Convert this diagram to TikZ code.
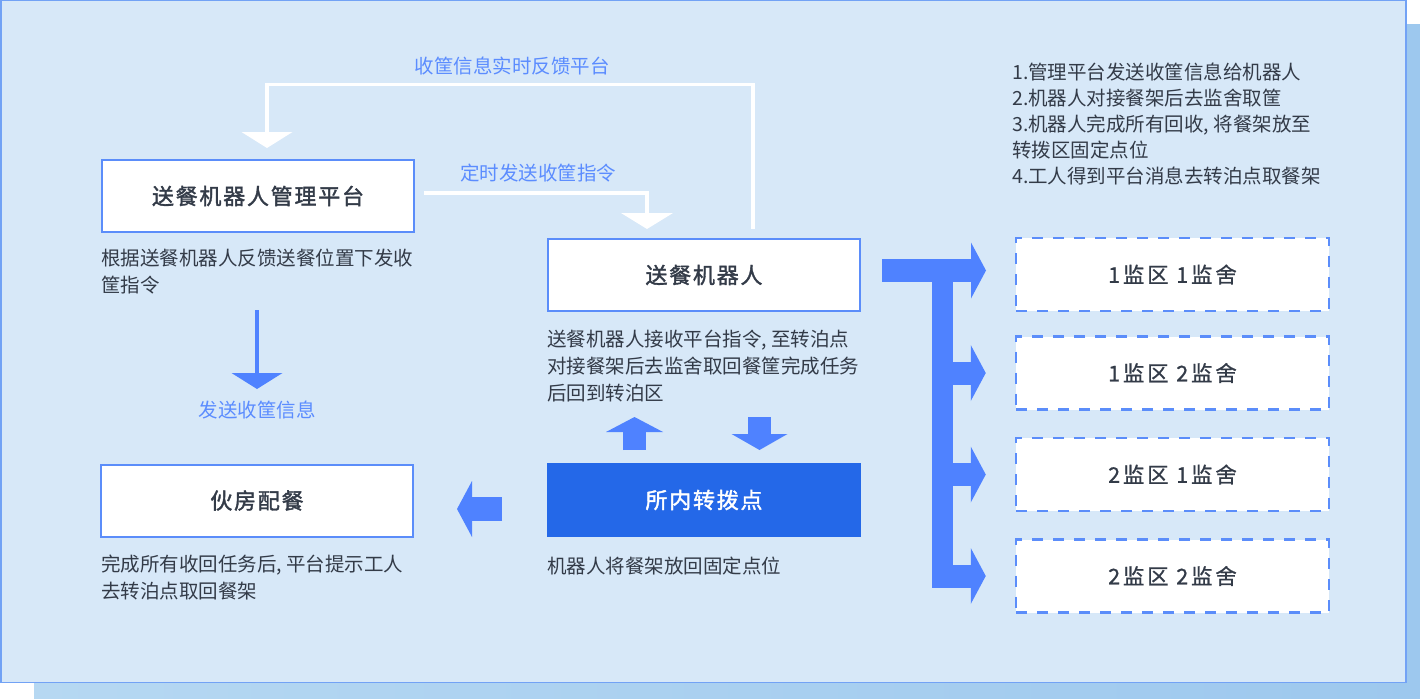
\documentclass[tikz,border=0pt]{standalone}
\usepackage{fontspec}
\setmainfont{Noto Sans CJK SC}
\usetikzlibrary{arrows.meta}
\definecolor{panelc}{HTML}{D7E8F8}
\definecolor{panelb}{HTML}{72A2F5}
\definecolor{shadowc}{HTML}{9DC8EE}
\definecolor{shadowl}{HTML}{B6D8F2}
\definecolor{boxc}{HTML}{5B8DFA}
\definecolor{arrc}{HTML}{4F82FF}
\definecolor{hubc}{HTML}{2468E8}
\definecolor{txt}{HTML}{333B48}
\definecolor{lblc}{HTML}{5B8CFF}
\newcommand\descf{\fontsize{19.5pt}{27pt}\selectfont}
\newcommand\notef{\fontsize{19.5pt}{26pt}\selectfont}
\newcommand\titlef{\fontsize{22pt}{26pt}\selectfont\addfontfeature{LetterSpace=8,FakeBold=1.6}}
\newcommand\zonef{\fontsize{21.5pt}{26pt}\selectfont\addfontfeature{LetterSpace=13,FakeBold=0.8}}
\tikzset{
  box/.style={draw=boxc, line width=2pt, fill=white, minimum width=312pt, minimum height=72pt, inner sep=0pt, font=\titlef, text=txt},
  darkbox/.style={fill=hubc, minimum width=314pt, minimum height=74pt, inner sep=0pt, font=\titlef, text=white},
  dbox/.style={draw=boxc, line width=2.5pt, dash pattern=on 11pt off 10pt, fill=white, minimum width=313pt, minimum height=73pt, inner sep=0pt, font=\zonef, text=txt},
  desc/.style={anchor=north west, inner sep=0pt, align=left, font=\descf, text=txt},
  lbl/.style={inner sep=0pt, font=\descf, text=lblc},
  wline/.style={draw=white, line width=3.5pt, line join=miter},
  fat/.style={draw=arrc, line width=23pt, -{Triangle[width=56pt,length=15pt,line width=0pt]}},
  thin/.style={draw=arrc, line width=4pt, -{Triangle[width=51pt,length=16pt,line width=0pt]}},
}
\begin{document}
\begin{tikzpicture}[x=1pt,y=-1pt]
\useasboundingbox (0,0) rectangle (1420,698);
% shadow and panel
\fill[shadowc] (1406,24) rectangle (1420,698);
\shade[left color=shadowl, right color=shadowc] (34,682) rectangle (1420,698);
\draw[panelb, fill=panelc, line width=1.5pt] (0.75,0.75) rectangle (1405.75,682.25);

% main boxes
\node[box] (plat) at (258,196) {送餐机器人管理平台};
\node[box] (robot) at (704,275) {送餐机器人};
\node[darkbox] (hub) at (704,500) {所内转拨点};
\node[box] (kitchen) at (257,500.5) {伙房配餐};

% descriptions
\node[desc] (platd) at (101,249) {根据送餐机器人反馈送餐位置下发收\\筐指令};
\node[desc] (robotd) at (547,330) {送餐机器人接收平台指令, 至转泊点\\对接餐架后去监舍取回餐筐完成任务\\后回到转泊区};
\node[desc] (hubd) at (547,557) {机器人将餐架放回固定点位};
\node[desc] (kitchend) at (101,555) {完成所有收回任务后, 平台提示工人\\去转泊点取回餐架};
\node[desc, font=\notef] (notes) at (1012,63) {1.管理平台发送收筐信息给机器人\\2.机器人对接餐架后去监舍取筐\\3.机器人完成所有回收, 将餐架放至\\转拨区固定点位\\4.工人得到平台消息去转泊点取餐架};

% labels
\node[lbl] (fblbl) at (512,66) {收筐信息实时反馈平台};
\node[lbl] (tmlbl) at (538,173) {定时发送收筐指令};
\node[lbl] (sdlbl) at (257,410) {发送收筐信息};

% zone boxes
\node[dbox] (z1) at (1172.5,274.5) {1监区 1监舍};
\node[dbox] (z2) at (1172.5,373) {1监区 2监舍};
\node[dbox] (z3) at (1172.5,474.5) {2监区 1监舍};
\node[dbox] (z4) at (1172.5,576) {2监区 2监舍};

% white connectors
\coordinate (fbx) at (753,84.5);
\coordinate (fbl) at (267,84.5);
\draw[wline, -{Triangle[width=51pt,length=16pt,line width=0pt]}, shorten <=9pt, shorten >=11pt]
  (robot.north -| fbx) -- (fbx) -- (fbl) -- (plat.north -| fbl);
\coordinate (ts) at (424,193);
\coordinate (tx) at (647,193);
\draw[wline, -{Triangle[width=52pt,length=16pt,line width=0pt]}, shorten >=9pt]
  (ts) -- (tx) -- (robot.north -| tx);

% thin blue down arrow
\coordinate (ds) at (257,310);
\coordinate (de) at (257,389);
\draw[thin] (ds) -- (de);

% fat arrows
\coordinate (ua) at (634.5,450);
\coordinate (ub) at (634.5,417);
\draw[fat, -{Triangle[width=57pt,length=15pt,line width=0pt]}] (ua) -- (ub);
\coordinate (da) at (759.5,417);
\coordinate (db) at (759.5,450);
\draw[fat, -{Triangle[width=56pt,length=16pt,line width=0pt]}] (da) -- (db);
\coordinate (la) at (502,509);
\coordinate (lb) at (457,509);
\draw[fat, line width=24pt] (la) -- (lb);

% bus arrows
\coordinate (bs) at (882,270.5);
\coordinate (bus) at (942.5,0);
\draw[arrc, line width=21pt] (942.5,259) -- (942.5,587.5);
\draw[fat] (bs) -- (986,270.5);
\draw[fat, shorten >=29pt] (bus |- z2.west) -- (z2.west);
\draw[fat, shorten >=29pt] (bus |- z3.west) -- (z3.west);
\draw[fat, shorten >=29pt] (bus |- z4.west) -- (z4.west);
\end{tikzpicture}
\end{document}
